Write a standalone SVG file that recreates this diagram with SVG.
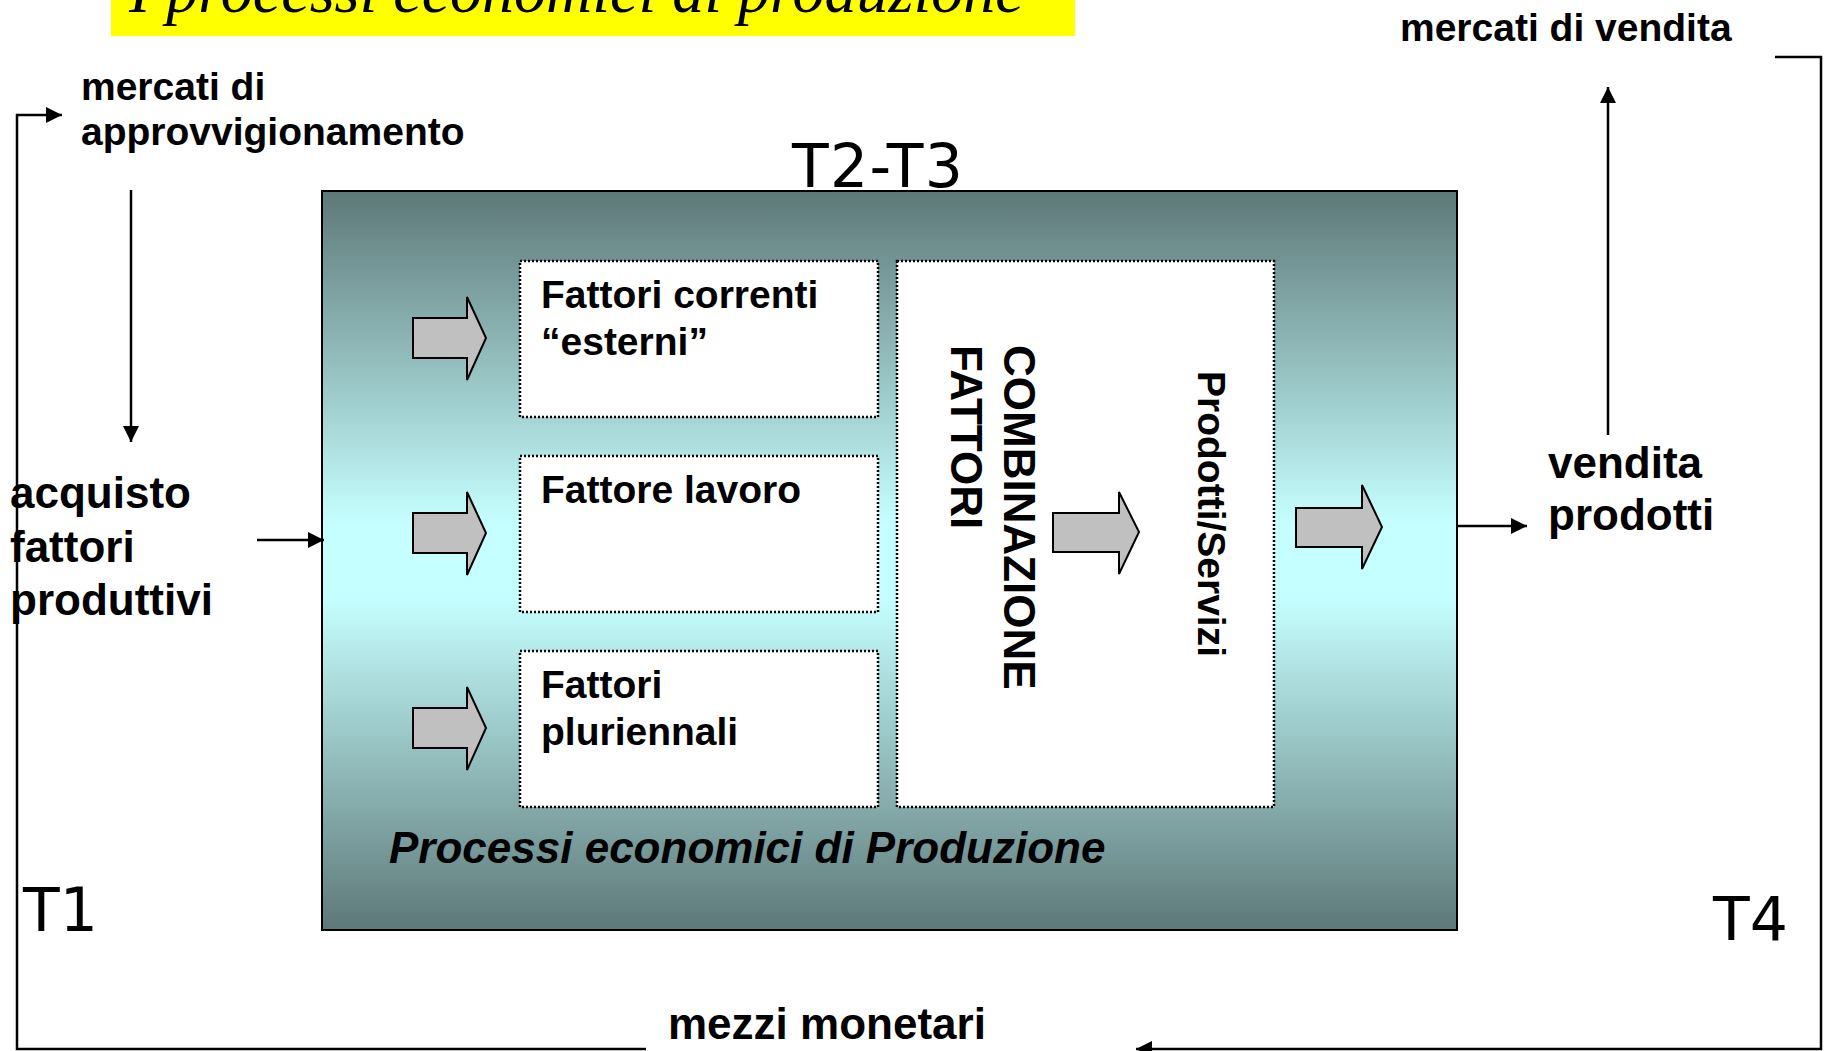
<svg xmlns="http://www.w3.org/2000/svg" width="1831" height="1051" viewBox="0 0 1831 1051">
<defs>
<linearGradient id="bg" x1="0" y1="0" x2="0" y2="1">
<stop offset="0" stop-color="#5E7878"/>
<stop offset="0.45" stop-color="#C6FFFF"/>
<stop offset="0.55" stop-color="#C6FFFF"/>
<stop offset="1" stop-color="#5E7878"/>
</linearGradient>
<marker id="ah" markerUnits="userSpaceOnUse" markerWidth="18" markerHeight="16" refX="16" refY="8" orient="auto">
<path d="M0,0 L16,8 L0,16 Z" fill="#000"/>
</marker>
<style>
.t{font-family:"Liberation Sans",Arial,sans-serif;font-weight:bold;fill:#000}
.s39{font-size:39px}
.s44{font-size:44px}
.hand{font-family:"DejaVu Sans",sans-serif;font-size:60px;fill:#000}
.box{fill:#fff;stroke:#000;stroke-width:2.5;stroke-dasharray:2 2}
.blk{fill:#C0C0C0;stroke:#000;stroke-width:2;stroke-linejoin:miter}
.ln{fill:none;stroke:#000;stroke-width:2.5}
</style>
</defs>
<rect width="1831" height="1051" fill="#fff"/>

<g id="title">
<rect x="111" y="0" width="964" height="36" fill="#FFFF00"/>
<text x="129" y="12" font-family="'Liberation Serif','Times New Roman',serif" font-style="italic" font-size="64" fill="#000">I processi economici di produzione</text>
</g>

<g id="processo">
<rect x="322" y="191" width="1135" height="739" fill="url(#bg)" stroke="#000" stroke-width="2"/>
<text class="t s44" x="389" y="863" font-style="italic">Processi economici di Produzione</text>
</g>

<g id="fattori-correnti">
<rect class="box" x="520" y="261" width="358" height="156"/>
<text class="t s39" x="541" y="308">Fattori correnti</text>
<text class="t s39" x="541" y="355">“esterni”</text>
</g>
<g id="fattore-lavoro">
<rect class="box" x="520" y="456" width="358" height="156"/>
<text class="t s39" x="541" y="503">Fattore lavoro</text>
</g>
<g id="fattori-pluriennali">
<rect class="box" x="520" y="651" width="358" height="156"/>
<text class="t s39" x="541" y="698">Fattori</text>
<text class="t s39" x="541" y="745">pluriennali</text>
</g>
<g id="combinazione">
<rect class="box" x="897" y="261" width="377" height="546"/>
<g transform="translate(1004,345) rotate(90)">
<text class="t s44" x="0" y="0">COMBINAZIONE</text>
<text class="t s44" x="0" y="52.8">FATTORI</text>
</g>
<g transform="translate(1198,371) rotate(90)">
<text class="t s39" x="0" y="0">Prodotti/Servizi</text>
</g>
</g>

<g id="block-arrows">
<polygon class="blk" points="413,318 467,318 467,297 486,338 467,380 467,358 413,358"/>
<polygon class="blk" points="413,513 467,513 467,492 486,533 467,575 467,553 413,553"/>
<polygon class="blk" points="413,708 467,708 467,687 486,728 467,770 467,748 413,748"/>
<polygon class="blk" points="1053,513 1119,513 1119,492 1139,532 1119,574 1119,552 1053,552"/>
<polygon class="blk" points="1296,508 1362,508 1362,485 1382,527 1362,569 1362,547 1296,547"/>
</g>

<g id="mercati-approvvigionamento">
<text class="t s39" x="81" y="100">mercati di</text>
<text class="t s39" x="81" y="145">approvvigionamento</text>
</g>
<g id="acquisto">
<text class="t s44" x="10" y="508">acquisto</text>
<text class="t s44" x="10" y="562">fattori</text>
<text class="t s44" x="10" y="615">produttivi</text>
</g>
<g id="mercati-vendita">
<text class="t s39" x="1400" y="41">mercati di vendita</text>
</g>
<g id="vendita">
<text class="t s44" x="1548" y="478">vendita</text>
<text class="t s44" x="1548" y="530">prodotti</text>
</g>
<g id="mezzi">
<text class="t s44" x="668" y="1039">mezzi monetari</text>
</g>
<g id="tempi">
<text class="hand" x="792" y="187" textLength="171">T2-T3</text>
<text class="hand" x="23" y="931">T1</text>
<text class="hand" x="1713" y="940">T4</text>
</g>

<g id="connectors">
<line class="ln" x1="131" y1="190" x2="131" y2="442" marker-end="url(#ah)"/>
<line class="ln" x1="257" y1="540" x2="324" y2="540" marker-end="url(#ah)"/>
<line class="ln" x1="1457" y1="526" x2="1527" y2="526" marker-end="url(#ah)"/>
<line class="ln" x1="1608" y1="435" x2="1608" y2="87" marker-end="url(#ah)"/>
<polyline class="ln" points="646,1049 17,1049 17,115 62,115" marker-end="url(#ah)"/>
<polyline class="ln" points="1775,57 1821,57 1821,1049 1136,1049" marker-end="url(#ah)"/>
</g>
</svg>
